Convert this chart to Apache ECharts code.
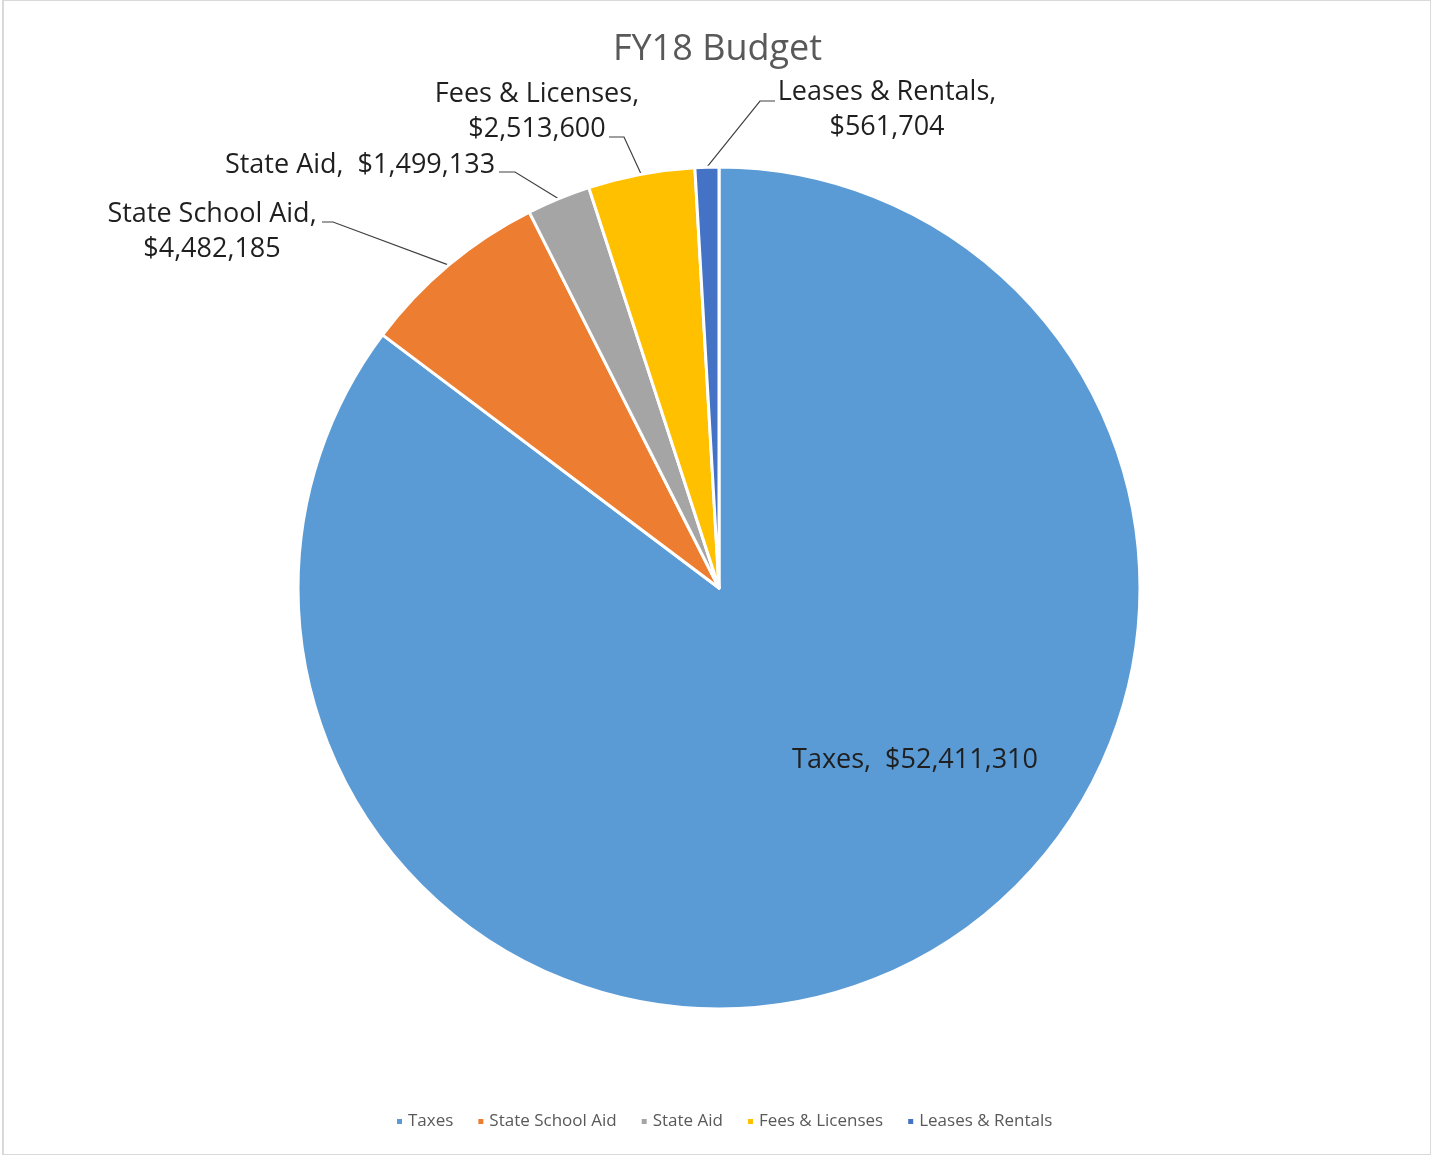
<!DOCTYPE html>
<html>
<head>
<meta charset="utf-8">
<title>FY18 Budget</title>
<script src="https://cdn.jsdelivr.net/npm/echarts@6/dist/echarts.min.js"></script>
<style>
  html, body { margin: 0; padding: 0; background: #ffffff; }
  #frame {
    position: absolute; left: 2px; top: 0; width: 1429px; height: 1155px;
    border: 1px solid #d9d9d9; border-left-width: 2px; box-sizing: border-box;
  }
  #chart { position: absolute; left: 0; top: 0; width: 1435px; height: 1157px; }
</style>
</head>
<body>
<div id="frame"></div>
<div id="chart"></div>
<script>
// Revenue sources for the FY18 budget (dollars)
const categories = ['Taxes', 'State School Aid', 'State Aid', 'Fees & Licenses', 'Leases & Rentals'];
const amounts = [52411310, 4482185, 1499133, 2513600, 561704];
const sliceColors = ['#5B9BD5', '#ED7D31', '#A5A5A5', '#FFC000', '#4472C4'];

// Where each data label sits and how its leader line leaves the text
const labelPlacement = {
  'Taxes':            { x: 915, y: 760, wrap: false, line: null },
  'State School Aid': { x: 212, y: 232, wrap: true,  line: { from: [322, 222], bend: [333, 222] } },
  'State Aid':        { x: 360, y: 165, wrap: false, line: { from: [499, 172], bend: [515, 172] } },
  'Fees & Licenses':  { x: 537, y: 112, wrap: true,  line: { from: [609, 137], bend: [624, 137] } },
  'Leases & Rentals': { x: 887, y: 110, wrap: true,  line: { from: [775, 101], bend: [760, 101] } }
};

const FONT = '"Open Sans", "Noto Sans", sans-serif';

function money(v) {
  return '$' + v.toLocaleString('en-US');
}

const chart = echarts.init(document.getElementById('chart'), null, { renderer: 'canvas' });

chart.setOption({
  animation: false,
  backgroundColor: 'transparent',
  color: sliceColors,
  title: {
    text: 'FY18 Budget',
    left: 'center',
    top: 27,
    textStyle: { fontFamily: FONT, fontSize: 36, fontWeight: 'normal', color: '#595959' }
  },
  legend: {
    bottom: 22,
    left: 390,
    icon: 'rect',
    itemWidth: 7,
    itemHeight: 7,
    itemGap: 23,
    data: categories,
    textStyle: { fontFamily: FONT, fontSize: 17, color: '#595959' }
  },
  series: [{
    type: 'pie',
    center: [719, 588],
    radius: 421,
    startAngle: 90,
    clockwise: true,
    avoidLabelOverlap: false,
    itemStyle: { borderColor: '#ffffff', borderWidth: 3 },
    emphasis: { disabled: true },
    label: {
      show: true,
      position: 'outside',
      fontFamily: FONT,
      fontSize: 27,
      lineHeight: 35,
      color: '#1f1f1f',
      formatter: function (p) {
        const spot = labelPlacement[p.name];
        return spot.wrap ? p.name + ',\n' + money(p.value) : p.name + ',  ' + money(p.value);
      }
    },
    labelLine: {
      show: true,
      length: 20,
      length2: 15,
      lineStyle: { color: '#404040', width: 1.2 }
    },
    labelLayout: function (params) {
      const spot = labelPlacement[categories[params.dataIndex]];
      const out = { x: spot.x, y: spot.y, align: 'center', verticalAlign: 'middle' };
      if (spot.line && params.labelLinePoints) {
        const edge = params.labelLinePoints[0];
        out.labelLinePoints = [edge, spot.line.bend, spot.line.from];
      }
      return out;
    },
    data: categories.map(function (name, i) {
      const item = { name: name, value: amounts[i] };
      if (!labelPlacement[name].line) {
        item.label = { position: 'inside' };
        item.labelLine = { show: false };
      }
      return item;
    })
  }]
});
</script>
</body>
</html>
